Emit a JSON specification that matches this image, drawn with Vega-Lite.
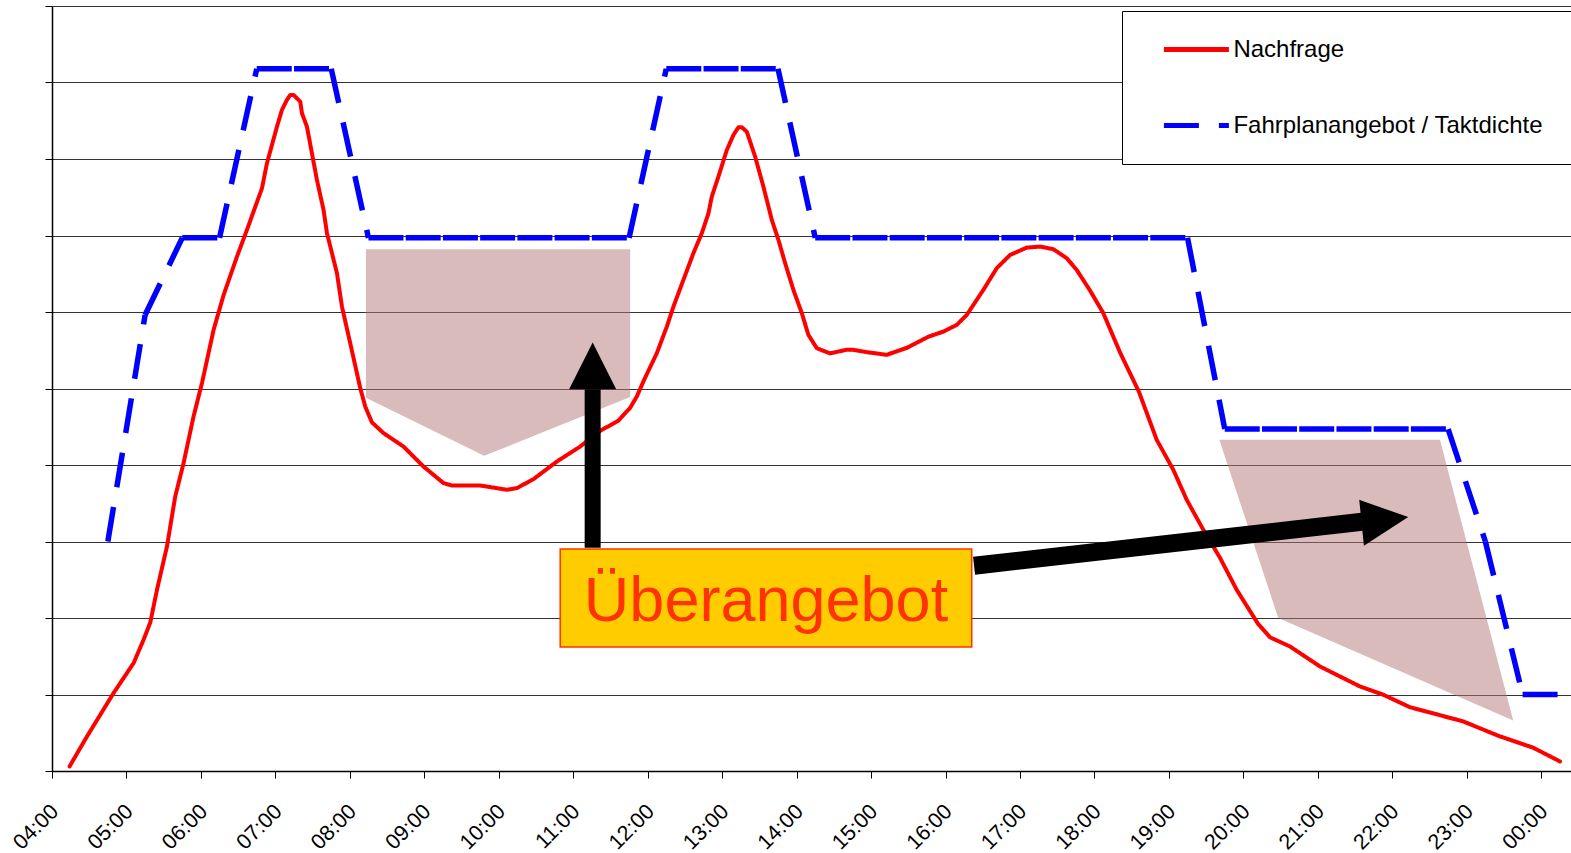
{
  "$schema": "https://vega.github.io/schema/vega-lite/v6.json",
  "width": 1519,
  "height": 765,
  "autosize": {"type": "none"},
  "padding": {"left": 52, "top": 6, "right": 0, "bottom": 82},
  "background": "white",
  "datasets": {
    "demand": [
      {"t":4.236,"v":0.06},{"t":4.47,"v":0.452},{"t":4.827,"v":1.019},{"t":5.096,"v":1.411},{"t":5.23,"v":1.716},{"t":5.32,"v":1.942},{"t":5.41,"v":2.369},{"t":5.544,"v":2.935},{"t":5.655,"v":3.588},{"t":5.767,"v":4.025},{"t":5.901,"v":4.634},{"t":6.014,"v":5.07},{"t":6.17,"v":5.766},{"t":6.304,"v":6.22},{"t":6.484,"v":6.724},{"t":6.618,"v":7.073},{"t":6.82,"v":7.618},{"t":6.887,"v":7.945},{"t":7.021,"v":8.423},{"t":7.088,"v":8.641},{"t":7.155,"v":8.772},{"t":7.2,"v":8.837},{"t":7.244,"v":8.837},{"t":7.334,"v":8.75},{"t":7.357,"v":8.598},{"t":7.424,"v":8.423},{"t":7.558,"v":7.726},{"t":7.647,"v":7.334},{"t":7.692,"v":7.034},{"t":7.827,"v":6.507},{"t":7.894,"v":6.071},{"t":8.005,"v":5.593},{"t":8.139,"v":5.008},{"t":8.207,"v":4.764},{"t":8.296,"v":4.558},{"t":8.452,"v":4.417},{"t":8.721,"v":4.241},{"t":8.989,"v":3.98},{"t":9.258,"v":3.763},{"t":9.371,"v":3.732},{"t":9.751,"v":3.732},{"t":10.109,"v":3.676},{"t":10.243,"v":3.698},{"t":10.466,"v":3.815},{"t":10.78,"v":4.045},{"t":11.093,"v":4.241},{"t":11.362,"v":4.447},{"t":11.603,"v":4.577},{"t":11.764,"v":4.747},{"t":11.854,"v":4.895},{"t":11.952,"v":5.113},{"t":12.123,"v":5.462},{"t":12.257,"v":5.809},{"t":12.346,"v":6.071},{"t":12.48,"v":6.42},{"t":12.614,"v":6.769},{"t":12.727,"v":7.03},{"t":12.816,"v":7.291},{"t":12.861,"v":7.508},{"t":12.95,"v":7.77},{"t":13.063,"v":8.118},{"t":13.152,"v":8.314},{"t":13.219,"v":8.415},{"t":13.264,"v":8.415},{"t":13.331,"v":8.357},{"t":13.443,"v":8.031},{"t":13.554,"v":7.639},{"t":13.667,"v":7.204},{"t":13.756,"v":6.942},{"t":13.846,"v":6.638},{"t":13.957,"v":6.289},{"t":14.07,"v":5.985},{"t":14.158,"v":5.701},{"t":14.271,"v":5.527},{"t":14.45,"v":5.459},{"t":14.665,"v":5.505},{"t":14.762,"v":5.505},{"t":14.943,"v":5.475},{"t":15.211,"v":5.44},{"t":15.48,"v":5.531},{"t":15.766,"v":5.675},{"t":15.971,"v":5.744},{"t":16.151,"v":5.832},{"t":16.285,"v":5.962},{"t":16.508,"v":6.289},{"t":16.688,"v":6.573},{"t":16.867,"v":6.746},{"t":17.091,"v":6.842},{"t":17.27,"v":6.855},{"t":17.448,"v":6.821},{"t":17.628,"v":6.703},{"t":17.762,"v":6.55},{"t":17.941,"v":6.28},{"t":18.119,"v":5.985},{"t":18.343,"v":5.472},{"t":18.598,"v":4.956},{"t":18.836,"v":4.329},{"t":19.059,"v":3.937},{"t":19.239,"v":3.545},{"t":19.462,"v":3.153},{"t":19.686,"v":2.787},{"t":19.91,"v":2.369},{"t":20.196,"v":1.925},{"t":20.357,"v":1.748},{"t":20.626,"v":1.628},{"t":21.028,"v":1.367},{"t":21.566,"v":1.105},{"t":21.879,"v":0.997},{"t":22.237,"v":0.834},{"t":22.953,"v":0.648},{"t":23.446,"v":0.452},{"t":23.893,"v":0.304},{"t":24.252,"v":0.125}
    ],
    "supply": [
      {"t":4.75,"v":3,"seg":0},{"t":5.25,"v":5.96,"seg":0},
      {"t":5.25,"v":5.96,"seg":1},{"t":5.75,"v":6.97,"seg":1},
      {"t":5.75,"v":6.97,"seg":2},{"t":6.25,"v":6.97,"seg":2},
      {"t":6.25,"v":6.97,"seg":3},{"t":6.75,"v":9.18,"seg":3},
      {"t":6.75,"v":9.18,"seg":4},{"t":7.25,"v":9.18,"seg":4},
      {"t":7.25,"v":9.18,"seg":5},{"t":7.75,"v":9.18,"seg":5},
      {"t":7.75,"v":9.18,"seg":6},{"t":8.25,"v":6.97,"seg":6},
      {"t":8.25,"v":6.97,"seg":7},{"t":8.75,"v":6.97,"seg":7},
      {"t":8.75,"v":6.97,"seg":8},{"t":9.25,"v":6.97,"seg":8},
      {"t":9.25,"v":6.97,"seg":9},{"t":9.75,"v":6.97,"seg":9},
      {"t":9.75,"v":6.97,"seg":10},{"t":10.25,"v":6.97,"seg":10},
      {"t":10.25,"v":6.97,"seg":11},{"t":10.75,"v":6.97,"seg":11},
      {"t":10.75,"v":6.97,"seg":12},{"t":11.25,"v":6.97,"seg":12},
      {"t":11.25,"v":6.97,"seg":13},{"t":11.75,"v":6.97,"seg":13},
      {"t":11.75,"v":6.97,"seg":14},{"t":12.25,"v":9.18,"seg":14},
      {"t":12.25,"v":9.18,"seg":15},{"t":12.75,"v":9.18,"seg":15},
      {"t":12.75,"v":9.18,"seg":16},{"t":13.25,"v":9.18,"seg":16},
      {"t":13.25,"v":9.18,"seg":17},{"t":13.75,"v":9.18,"seg":17},
      {"t":13.75,"v":9.18,"seg":18},{"t":14.25,"v":6.97,"seg":18},
      {"t":14.25,"v":6.97,"seg":19},{"t":14.75,"v":6.97,"seg":19},
      {"t":14.75,"v":6.97,"seg":20},{"t":15.25,"v":6.97,"seg":20},
      {"t":15.25,"v":6.97,"seg":21},{"t":15.75,"v":6.97,"seg":21},
      {"t":15.75,"v":6.97,"seg":22},{"t":16.25,"v":6.97,"seg":22},
      {"t":16.25,"v":6.97,"seg":23},{"t":16.75,"v":6.97,"seg":23},
      {"t":16.75,"v":6.97,"seg":24},{"t":17.25,"v":6.97,"seg":24},
      {"t":17.25,"v":6.97,"seg":25},{"t":17.75,"v":6.97,"seg":25},
      {"t":17.75,"v":6.97,"seg":26},{"t":18.25,"v":6.97,"seg":26},
      {"t":18.25,"v":6.97,"seg":27},{"t":18.75,"v":6.97,"seg":27},
      {"t":18.75,"v":6.97,"seg":28},{"t":19.25,"v":6.97,"seg":28},
      {"t":19.25,"v":6.97,"seg":29},{"t":19.75,"v":4.47,"seg":29},
      {"t":19.75,"v":4.47,"seg":30},{"t":20.25,"v":4.47,"seg":30},
      {"t":20.25,"v":4.47,"seg":31},{"t":20.75,"v":4.47,"seg":31},
      {"t":20.75,"v":4.47,"seg":32},{"t":21.25,"v":4.47,"seg":32},
      {"t":21.25,"v":4.47,"seg":33},{"t":21.75,"v":4.47,"seg":33},
      {"t":21.75,"v":4.47,"seg":34},{"t":22.25,"v":4.47,"seg":34},
      {"t":22.25,"v":4.47,"seg":35},{"t":22.75,"v":4.47,"seg":35},
      {"t":22.75,"v":4.47,"seg":36},{"t":23.25,"v":3,"seg":36},
      {"t":23.25,"v":3,"seg":37},{"t":23.75,"v":1,"seg":37},
      {"t":23.75,"v":1,"seg":38},{"t":24.25,"v":1,"seg":38}
    ],
    "shade1": [
      {"t":8.216,"top":6.82,"bottom":4.88},
      {"t":9.804,"top":6.82,"bottom":4.12},
      {"t":11.765,"top":6.82,"bottom":4.89}
    ],
    "shade2": [
      {"v":4.329,"left":19.677,"right":22.64},
      {"v":1.999,"left":20.469,"right":23.265},
      {"v":0.661,"left":23.624,"right":23.624}
    ],
    "shaft1": [{"t1":11.261,"v1":2.918,"t2":11.261,"v2":4.991}],
    "shaft2": [{"t1":16.383,"v1":2.683,"t2":21.593,"v2":3.258}],
    "heads": [
      {"arrow":"a","t":10.945,"y":4.991,"y2":4.991},
      {"arrow":"a","t":11.261,"y":5.6,"y2":4.991},
      {"arrow":"a","t":11.577,"y":4.991,"y2":4.991},
      {"arrow":"b","t":21.556,"y":3.545,"y2":3.545},
      {"arrow":"b","t":21.619,"y":3.523,"y2":2.944},
      {"arrow":"b","t":22.214,"y":3.319,"y2":3.319}
    ],
    "box": [{"t1":10.825,"t2":16.352,"v1":2.901,"v2":1.62}],
    "label": [{"t":13.589,"v":1.955,"text":"Überangebot"}]
  },
  "layer": [
    {
      "data": {"name": "supply"},
      "mark": {"type": "line", "strokeWidth": 5.5, "strokeCap": "butt", "strokeJoin": "miter"},
      "encoding": {
        "x": {"field": "t", "type": "quantitative", "scale": {"domain": [4, 24.4], "nice": false, "zero": false},
          "axis": {"values": [4,4.5,5,5.5,6,6.5,7,7.5,8,8.5,9,9.5,10,10.5,11,11.5,12,12.5,13,13.5,14,14.5,15,15.5,16,16.5,17,17.5,18,18.5,19,19.5,20,20.5,21,21.5,22,22.5,23,23.5,24],
            "labelExpr": "datum.value % 1 == 0 ? (((datum.value % 24) < 10 ? '0' : '') + (datum.value % 24) + ':00') : ''"}},
        "y": {"field": "v", "type": "quantitative", "scale": {"domain": [0, 10], "nice": false},
          "axis": {"values": [0,1,2,3,4,5,6,7,8,9,10]}},
        "detail": {"field": "seg", "type": "nominal"},
        "color": {"datum": "Fahrplanangebot / Taktdichte", "type": "nominal",
          "scale": {"domain": ["Nachfrage", "Fahrplanangebot / Taktdichte"], "range": ["#FF0000", "#0000FF"]},
          "legend": {"title": null, "labelExpr": "datum.label + '\u2800'"}},
        "strokeDash": {"datum": "Fahrplanangebot / Taktdichte", "type": "nominal",
          "scale": {"domain": ["Nachfrage", "Fahrplanangebot / Taktdichte"], "range": [[1, 0], [35, 20]]},
          "legend": {"title": null, "labelExpr": "datum.label + '\u2800'"}}
      }
    },
    {
      "data": {"name": "demand"},
      "mark": {"type": "line", "strokeWidth": 4, "strokeJoin": "round", "strokeCap": "round"},
      "encoding": {
        "x": {"field": "t", "type": "quantitative"},
        "y": {"field": "v", "type": "quantitative"},
        "color": {"datum": "Nachfrage", "type": "nominal"},
        "strokeDash": {"datum": "Nachfrage", "type": "nominal"}
      }
    },
    {
      "data": {"name": "shade1"},
      "mark": {"type": "area", "fill": "#B47878", "opacity": 0.5},
      "encoding": {
        "x": {"field": "t", "type": "quantitative"},
        "y": {"field": "top", "type": "quantitative"},
        "y2": {"field": "bottom"}
      }
    },
    {
      "data": {"name": "shade2"},
      "mark": {"type": "area", "orient": "horizontal", "fill": "#B47878", "opacity": 0.5},
      "encoding": {
        "y": {"field": "v", "type": "quantitative"},
        "x": {"field": "left", "type": "quantitative"},
        "x2": {"field": "right"}
      }
    },
    {
      "data": {"name": "shaft1"},
      "mark": {"type": "rule", "strokeWidth": 16, "color": "#000", "strokeCap": "butt"},
      "encoding": {
        "x": {"field": "t1", "type": "quantitative"},
        "y": {"field": "v1", "type": "quantitative"},
        "y2": {"field": "v2"}
      }
    },
    {
      "data": {"name": "shaft2"},
      "mark": {"type": "rule", "strokeWidth": 18, "color": "#000", "strokeCap": "butt"},
      "encoding": {
        "x": {"field": "t1", "type": "quantitative"},
        "x2": {"field": "t2"},
        "y": {"field": "v1", "type": "quantitative"},
        "y2": {"field": "v2"}
      }
    },
    {
      "data": {"name": "heads"},
      "mark": {"type": "area", "fill": "#000", "opacity": 1},
      "encoding": {
        "x": {"field": "t", "type": "quantitative"},
        "y": {"field": "y", "type": "quantitative"},
        "y2": {"field": "y2"},
        "detail": {"field": "arrow", "type": "nominal"}
      }
    },
    {
      "data": {"name": "box"},
      "mark": {"type": "rect", "fill": "#FFCC00", "stroke": "#FF3300", "strokeWidth": 1.5},
      "encoding": {
        "x": {"field": "t1", "type": "quantitative"},
        "x2": {"field": "t2"},
        "y": {"field": "v1", "type": "quantitative"},
        "y2": {"field": "v2"}
      }
    },
    {
      "data": {"name": "label"},
      "mark": {"type": "text", "font": "Liberation Sans", "fontSize": 63, "color": "#FF3300", "align": "center", "baseline": "alphabetic"},
      "encoding": {
        "x": {"field": "t", "type": "quantitative"},
        "y": {"field": "v", "type": "quantitative"},
        "text": {"field": "text"}
      }
    }
  ],
  "config": {
    "view": {"stroke": null},
    "axisX": {"grid": false, "title": null, "domainColor": "#000", "domainWidth": 1.5, "tickColor": "#000", "tickSize": 7, "labelAngle": -45, "labelAlign": "right", "labelBaseline": "middle", "labelOffset": 3, "labelPadding": 30, "labelFont": "Liberation Sans", "labelFontSize": 21.5, "labelColor": "#000", "labelOverlap": false},
    "axisY": {"grid": true, "title": null, "gridColor": "#333", "gridWidth": 1, "gridOpacity": 1, "domainColor": "#000", "domainWidth": 1.5, "tickColor": "#000", "tickSize": 7, "labels": false},
    "legend": {"orient": "none", "legendX": 1070, "legendY": 5, "direction": "vertical", "strokeColor": "#000", "fillColor": "#fff", "padding": 26.5, "symbolOffset": 35.9, "symbolType": "M-8,0H8", "symbolSize": 66, "symbolStrokeWidth": 5, "labelFont": "Liberation Sans", "labelFontSize": 24, "labelColor": "#000", "labelOffset": 25, "rowPadding": 52, "labelLimit": 800}
  }
}
